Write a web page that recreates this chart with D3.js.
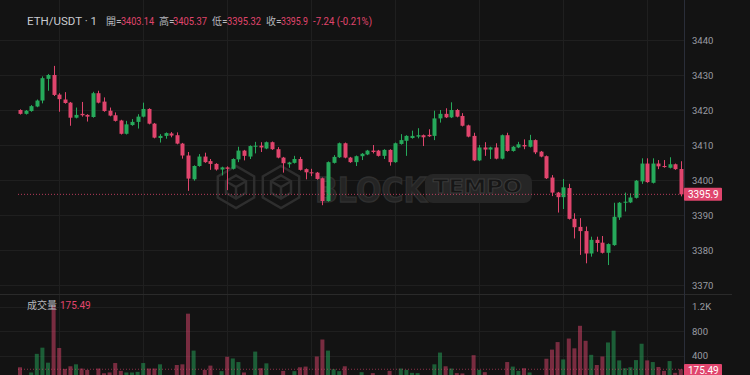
<!DOCTYPE html>
<html>
<head>
<meta charset="utf-8">
<script src="https://cdn.jsdelivr.net/npm/d3@7"></script>
<style>
  html, body { margin: 0; padding: 0; background: #131313; }
  svg { display: block; }
  text { font-family: Roboto, "Noto Sans", "Noto Sans CJK TC", sans-serif; }
</style>
</head>
<body>
<script>
// one-minute candles, ETH/USDT
var opens = [3420.0, 3418.9, 3419.7, 3421.0, 3422.7, 3428.9, 3430.0, 3424.4, 3423.0, 3422.1,
  3417.8, 3418.9, 3418.6, 3418.0, 3424.8, 3422.4, 3419.8, 3418.5, 3417.0, 3413.2,
  3415.7, 3416.6, 3418.1, 3420.3, 3416.1, 3412.0, 3412.6, 3413.3, 3412.8, 3410.4,
  3407.0, 3400.2, 3404.0, 3406.7, 3405.4, 3404.6, 3403.0, 3403.6, 3403.2, 3405.9,
  3408.4, 3406.7, 3409.5, 3409.8, 3409.0, 3410.8, 3408.8, 3406.4, 3404.5, 3404.9,
  3406.0, 3403.1, 3402.2, 3402.1, 3400.5, 3394.0, 3404.9, 3406.5, 3410.5, 3406.4,
  3405.1, 3406.8, 3407.3, 3408.4, 3408.4, 3406.9, 3408.6, 3405.1, 3410.3, 3411.2,
  3412.0, 3412.4, 3412.8, 3412.9, 3412.6, 3417.6, 3418.9, 3417.9, 3420.0, 3418.3,
  3415.6, 3412.6, 3405.6, 3409.3, 3408.7, 3409.3, 3406.1, 3412.8, 3408.3, 3409.3,
  3410.0, 3409.5, 3411.4, 3408.1, 3406.8, 3400.7, 3396.4, 3395.1, 3397.7, 3388.9,
  3386.6, 3385.4, 3379.0, 3382.9, 3382.1, 3379.2, 3381.4, 3389.3, 3393.5, 3393.6,
  3394.9, 3399.6, 3404.7, 3399.2, 3404.7, 3404.0, 3403.5, 3404.5, 3403.14];
var closes = [3418.9, 3419.8, 3421.1, 3422.7, 3429.1, 3430.0, 3424.3, 3423.1, 3422.0, 3417.8,
  3418.6, 3418.5, 3418.1, 3424.8, 3422.1, 3419.7, 3418.4, 3416.9, 3413.2, 3415.9,
  3416.6, 3418.1, 3420.3, 3416.1, 3412.1, 3412.6, 3413.4, 3412.7, 3410.4, 3407.0,
  3400.4, 3404.0, 3406.7, 3405.1, 3404.6, 3403.0, 3403.6, 3403.2, 3406.0, 3408.4,
  3406.9, 3409.7, 3409.8, 3409.3, 3410.8, 3408.8, 3406.4, 3404.8, 3405.0, 3406.0,
  3402.9, 3402.2, 3401.9, 3400.3, 3394.0, 3405.1, 3406.6, 3410.5, 3406.4, 3405.1,
  3406.8, 3407.5, 3408.4, 3408.0, 3406.9, 3408.6, 3405.1, 3410.5, 3411.4, 3412.6,
  3412.6, 3412.8, 3412.2, 3412.5, 3417.6, 3418.9, 3417.9, 3420.0, 3418.1, 3415.5,
  3412.4, 3405.6, 3409.3, 3408.7, 3409.3, 3406.1, 3412.8, 3408.3, 3409.5, 3410.2,
  3409.6, 3411.4, 3407.9, 3406.7, 3400.5, 3396.4, 3395.1, 3397.9, 3388.9, 3386.5,
  3385.4, 3379.0, 3382.9, 3382.0, 3379.2, 3381.7, 3389.5, 3393.5, 3393.8, 3395.0,
  3399.8, 3404.7, 3399.4, 3404.7, 3403.9, 3403.7, 3404.5, 3403.1, 3395.9];
var highs = [3420.2, 3420.0, 3421.4, 3423.0, 3429.6, 3430.3, 3432.6, 3424.8, 3425.1, 3422.3,
  3420.7, 3422.3, 3418.8, 3425.2, 3425.5, 3423.6, 3420.7, 3419.3, 3417.2, 3416.9,
  3417.4, 3418.8, 3422.1, 3420.5, 3416.3, 3413.1, 3413.6, 3413.7, 3413.6, 3410.6,
  3408.0, 3404.2, 3407.4, 3407.8, 3406.0, 3404.8, 3403.8, 3403.9, 3406.2, 3409.5,
  3408.6, 3409.9, 3410.9, 3410.8, 3411.0, 3411.0, 3409.4, 3406.6, 3405.2, 3406.9,
  3406.6, 3403.3, 3403.2, 3402.3, 3400.7, 3405.3, 3407.1, 3410.7, 3410.7, 3406.6,
  3407.0, 3407.7, 3408.6, 3410.0, 3408.6, 3408.8, 3408.8, 3410.7, 3413.1, 3412.8,
  3414.1, 3414.8, 3413.0, 3414.5, 3419.8, 3420.0, 3420.5, 3422.2, 3420.3, 3419.1,
  3415.8, 3413.5, 3410.0, 3410.8, 3409.5, 3410.5, 3413.0, 3413.5, 3409.7, 3410.9,
  3411.6, 3412.9, 3411.6, 3408.3, 3407.0, 3401.4, 3396.6, 3400.3, 3398.9, 3390.5,
  3389.1, 3386.7, 3383.8, 3383.8, 3384.0, 3381.9, 3393.5, 3393.7, 3396.4, 3396.2,
  3400.0, 3406.2, 3406.2, 3406.2, 3405.7, 3405.7, 3406.5, 3404.7, 3405.37];
var lows = [3418.7, 3418.7, 3419.5, 3420.8, 3421.9, 3425.5, 3424.0, 3419.5, 3421.8, 3415.5,
  3417.6, 3418.1, 3416.7, 3417.8, 3421.9, 3419.5, 3418.2, 3416.7, 3413.0, 3413.0,
  3415.5, 3414.7, 3417.9, 3415.9, 3411.9, 3410.7, 3411.8, 3412.2, 3410.2, 3406.1,
  3396.9, 3399.8, 3403.8, 3404.9, 3402.9, 3402.7, 3401.3, 3397.1, 3403.0, 3405.1,
  3405.6, 3406.0, 3407.6, 3408.0, 3408.8, 3408.6, 3406.2, 3402.1, 3403.5, 3404.7,
  3402.7, 3400.2, 3401.1, 3400.1, 3392.8, 3393.8, 3404.7, 3406.3, 3406.2, 3404.9,
  3404.0, 3405.7, 3407.1, 3407.6, 3406.7, 3406.0, 3404.1, 3404.9, 3410.1, 3406.9,
  3411.8, 3411.9, 3409.7, 3412.3, 3411.4, 3416.4, 3417.7, 3417.7, 3417.9, 3415.3,
  3412.2, 3405.4, 3405.4, 3406.9, 3406.0, 3405.9, 3405.9, 3408.1, 3408.1, 3409.1,
  3408.8, 3409.3, 3407.4, 3406.5, 3400.3, 3395.4, 3390.7, 3391.7, 3388.7, 3383.3,
  3378.6, 3376.2, 3378.1, 3379.5, 3379.0, 3375.7, 3381.2, 3388.6, 3391.0, 3393.4,
  3394.7, 3398.9, 3399.2, 3399.0, 3403.1, 3403.5, 3403.3, 3402.9, 3395.32];
var volumes = [208, 70, 123, 427, 528, 283, 1216, 523, 181, 224,
  256, 187, 165, 70, 187, 110, 123, 277, 149, 123,
  123, 133, 277, 187, 187, 256, 60, 50, 245, 256,
  1083, 480, 60, 165, 235, 70, 144, 379, 352, 293,
  123, 60, 464, 192, 272, 60, 50, 149, 60, 144,
  208, 219, 80, 384, 661, 480, 176, 144, 224, 70,
  60, 128, 60, 112, 60, 70, 149, 80, 187, 165,
  117, 112, 60, 70, 256, 448, 224, 187, 112, 107,
  70, 405, 165, 128, 70, 60, 70, 293, 219, 149,
  192, 123, 70, 60, 347, 496, 619, 336, 677, 517,
  885, 640, 411, 245, 384, 613, 805, 320, 192, 208,
  325, 592, 320, 293, 213, 149, 309, 117, 175.49];

var priceTicks = [3370, 3380, 3390, 3400, 3410, 3420, 3430, 3440];
var volumeTicks = [400, 800, 1200];
var timeGridIdx = [7, 22, 37, 52, 67, 82, 97, 112];   // every 15 min

var last = { o: "3403.14", h: "3405.37", l: "3395.32", c: "3395.9", chg: "-7.24 (-0.21%)", vol: "175.49" };

var W = 750, H = 375;
var upColor = "#26a95b", downColor = "#e0456d";
var axisX = 684;

var svg = d3.select("body").append("svg")
    .attr("width", W)
    .attr("height", H);

svg.append("rect").attr("width", W).attr("height", H).attr("fill", "#131313");

var x = d3.scaleLinear().domain([0, opens.length - 1]).range([20, 680.8]);
var y = d3.scaleLinear().domain([3370, 3440]).range([285, 40]);
var yv = d3.scaleLinear().domain([0, 1200]).range([380, 306.5]);

// grid
svg.append("g").selectAll("line").data(priceTicks).enter().append("line")
    .attr("x1", 0).attr("x2", axisX)
    .attr("y1", function(d) { return Math.round(y(d)) + 0.5; })
    .attr("y2", function(d) { return Math.round(y(d)) + 0.5; })
    .attr("stroke", "#1f1f1f");
svg.append("g").selectAll("line").data(volumeTicks).enter().append("line")
    .attr("x1", 0).attr("x2", axisX)
    .attr("y1", function(d) { return Math.round(yv(d)) + 0.5; })
    .attr("y2", function(d) { return Math.round(yv(d)) + 0.5; })
    .attr("stroke", "#1f1f1f");
svg.append("g").selectAll("line").data(timeGridIdx).enter().append("line")
    .attr("x1", function(d) { return Math.round(x(d)) + 0.5; })
    .attr("x2", function(d) { return Math.round(x(d)) + 0.5; })
    .attr("y1", 0).attr("y2", H)
    .attr("stroke", "#1f1f1f");

// pane separator and price scale border
svg.append("line").attr("x1", 0).attr("x2", 732).attr("y1", 294.5).attr("y2", 294.5)
    .attr("stroke", "#2a2a2a");
svg.append("line").attr("x1", axisX + 0.5).attr("x2", axisX + 0.5).attr("y1", 0).attr("y2", H)
    .attr("stroke", "#2a2e39");

// watermark
var wm = svg.append("g");
var wmStroke = "#2e2e2e";
function cube(cx, cy, r) {
  var pts = d3.range(6).map(function(k) {
    var a = Math.PI / 6 + k * Math.PI / 3;
    return [cx + r * Math.cos(a), cy + r * Math.sin(a)];
  });
  wm.append("polygon").attr("points", pts.join(" "))
      .attr("fill", "none").attr("stroke", wmStroke).attr("stroke-width", 2.5);
  var r2 = r * 0.55;
  var inner = d3.range(6).map(function(k) {
    var a = Math.PI / 6 + k * Math.PI / 3;
    return [cx + r2 * Math.cos(a), cy + r2 * Math.sin(a)];
  });
  wm.append("polygon").attr("points", inner.join(" "))
      .attr("fill", "none").attr("stroke", wmStroke).attr("stroke-width", 2.5);
  wm.append("path")
      .attr("d", "M" + inner[3] + "L" + [cx, cy] + "L" + inner[5] + "M" + [cx, cy] + "L" + inner[1])
      .attr("fill", "none").attr("stroke", wmStroke).attr("stroke-width", 2.5);
}
cube(236, 187, 21);
cube(281, 187, 21);
wm.append("text").attr("transform", "translate(315,202) scale(1,1.12)")
    .attr("font-size", 30).attr("font-weight", 700)
    .attr("fill", "#242424").attr("stroke", "#2f2f2f").attr("stroke-width", 1.2)
    .style("font-family", "'DejaVu Sans', sans-serif")
    .text("BLOCK");
wm.append("rect").attr("x", 425).attr("y", 174).attr("width", 107).attr("height", 29).attr("rx", 8)
    .attr("fill", "#262626");
wm.append("text").attr("x", 433).attr("y", 193)
    .attr("font-size", 19).attr("font-weight", 700)
    .attr("fill", "#161616").attr("stroke", "#383838").attr("stroke-width", 1)
    .style("font-family", "'DejaVu Sans', sans-serif")
    .attr("textLength", 89).attr("lengthAdjust", "spacingAndGlyphs").text("TEMPO");

// candles
var idx = d3.range(opens.length);
function col(i) { return closes[i] >= opens[i] ? upColor : downColor; }

svg.append("g").selectAll("rect").data(idx).enter().append("rect")
    .attr("x", function(i) { return x(i) - 2; })
    .attr("y", function(i) { return yv(volumes[i]); })
    .attr("width", 4)
    .attr("height", function(i) { return yv(0) - yv(volumes[i]); })
    .attr("fill", col)
    .attr("fill-opacity", 0.5);

svg.append("g").selectAll("line").data(idx).enter().append("line")
    .attr("x1", function(i) { return Math.round(x(i)) + 0.5; })
    .attr("x2", function(i) { return Math.round(x(i)) + 0.5; })
    .attr("y1", function(i) { return y(highs[i]); })
    .attr("y2", function(i) { return y(lows[i]); })
    .attr("stroke", col)
    .attr("stroke-width", 1);

svg.append("g").selectAll("rect").data(idx).enter().append("rect")
    .attr("x", function(i) { return Math.round(x(i)) - 1.5; })
    .attr("y", function(i) { return y(Math.max(opens[i], closes[i])); })
    .attr("width", 4)
    .attr("height", function(i) { return Math.max(1, Math.abs(y(opens[i]) - y(closes[i]))); })
    .attr("fill", col);

// last price / volume dotted lines
var lastClose = closes[closes.length - 1];
var lastVol = volumes[volumes.length - 1];
svg.append("line").attr("x1", 18).attr("x2", axisX)
    .attr("y1", y(lastClose)).attr("y2", y(lastClose))
    .attr("stroke", downColor).attr("stroke-opacity", 0.8).attr("stroke-dasharray", "1,2");
svg.append("line").attr("x1", 18).attr("x2", axisX)
    .attr("y1", yv(lastVol)).attr("y2", yv(lastVol))
    .attr("stroke", downColor).attr("stroke-opacity", 0.6).attr("stroke-dasharray", "1,2");

// price scale
var pAxis = svg.append("g").attr("transform", "translate(" + axisX + ",0)")
    .call(d3.axisRight(y).tickValues(priceTicks).tickSize(0).tickPadding(8).tickFormat(d3.format("d")));
pAxis.select(".domain").remove();
pAxis.selectAll("text").attr("fill", "#9a9ca3").attr("font-size", 9.5)
    .style("font-family", "Roboto, sans-serif");

var vAxis = svg.append("g").attr("transform", "translate(" + axisX + ",0)")
    .call(d3.axisRight(yv).tickValues(volumeTicks).tickSize(0).tickPadding(8)
      .tickFormat(function(d) { return d >= 1000 ? (d / 1000) + "K" : d; }));
vAxis.select(".domain").remove();
vAxis.selectAll("text").attr("fill", "#9a9ca3").attr("font-size", 9.5)
    .style("font-family", "Roboto, sans-serif");

// last value tags
svg.append("rect").attr("x", axisX).attr("y", y(lastClose) - 6.5).attr("width", 38).attr("height", 13)
    .attr("rx", 1).attr("fill", downColor);
svg.append("text").attr("x", axisX + 4).attr("y", y(lastClose) + 3.5)
    .attr("fill", "#ffffff").attr("font-size", 10).text(last.c);
svg.append("rect").attr("x", axisX).attr("y", 364).attr("width", 38).attr("height", 13)
    .attr("rx", 1).attr("fill", downColor);
svg.append("text").attr("x", axisX + 4).attr("y", 374)
    .attr("fill", "#ffffff").attr("font-size", 10).text(last.vol);

// legend header
var head = svg.append("g");
head.append("text").attr("x", 27).attr("y", 25).attr("fill", "#c9cbd1").attr("font-size", 11.5)
    .text("ETH/USDT · 1");
var parts = [
  { x: 106, label: "開=", vx: 121, v: last.o, w: 33 },
  { x: 159, label: "高=", vx: 173, v: last.h, w: 34 },
  { x: 212, label: "低=", vx: 227, v: last.l, w: 34 },
  { x: 266, label: "收=", vx: 281, v: last.c, w: 27 }
];
parts.forEach(function(p) {
  head.append("text").attr("x", p.x).attr("y", 25).attr("fill", "#b5b7bd")
      .attr("font-size", 10).text(p.label);
  head.append("text").attr("x", p.vx).attr("y", 25).attr("fill", downColor)
      .attr("font-size", 10.5).attr("textLength", p.w).attr("lengthAdjust", "spacingAndGlyphs")
      .text(p.v);
});
head.append("text").attr("x", 313).attr("y", 25).attr("fill", downColor)
    .attr("font-size", 10.5).attr("textLength", 59).attr("lengthAdjust", "spacingAndGlyphs")
    .text(last.chg);

svg.append("text").attr("x", 27).attr("y", 309).attr("fill", "#b5b7bd").attr("font-size", 10)
    .text("成交量");
svg.append("text").attr("x", 60).attr("y", 309).attr("fill", downColor).attr("font-size", 10)
    .text(last.vol);
</script>
</body>
</html>
